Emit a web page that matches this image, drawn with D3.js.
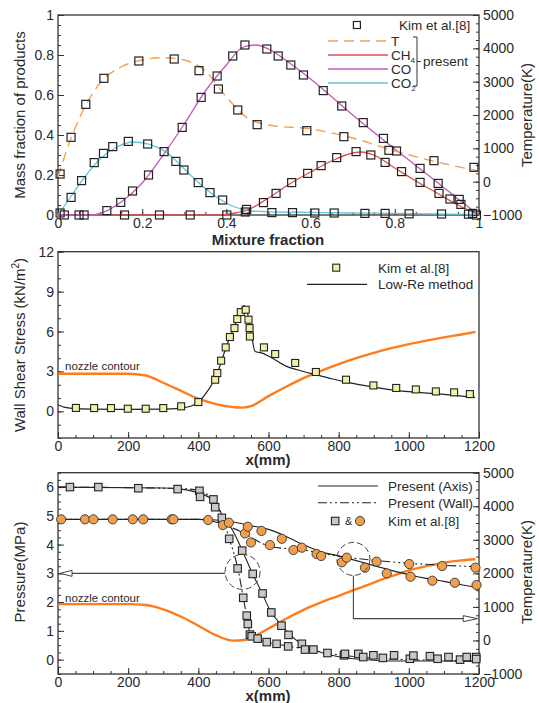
<!DOCTYPE html>
<html>
<head>
<meta charset="utf-8">
<script src="https://cdn.jsdelivr.net/npm/d3@7/dist/d3.min.js"></script>
<style>
  body { margin: 0; background: #fff; }
  svg text { font-family: "Liberation Sans", Arial, sans-serif; fill: #2a2a2a; }
</style>
</head>
<body>
<div id="chart"></div>
<script>
// ---------- top panel: mixture fraction ----------
var tCurve = [[0,140],[0.02,920],[0.05,1880],[0.1,2960],[0.15,3440],[0.2,3650],[0.25,3720],[0.3,3650],[0.35,3320],[0.4,2540],[0.45,1910],[0.5,1700],[0.6,1580],[0.7,1310],[0.8,920],[0.9,590],[1.0,320]];
var ch4Curve = [[0,0],[0.38,0],[0.42,0.01],[0.45,0.025],[0.5,0.085],[0.55,0.155],[0.6,0.215],[0.65,0.27],[0.7,0.31],[0.72,0.315],[0.75,0.3],[0.8,0.235],[0.85,0.17],[0.9,0.11],[0.95,0.05],[1.0,0]];
var coCurve = [[0,0],[0.08,0],[0.1,0.008],[0.15,0.065],[0.2,0.16],[0.25,0.3],[0.3,0.455],[0.35,0.62],[0.4,0.75],[0.44,0.84],[0.47,0.85],[0.5,0.83],[0.55,0.76],[0.6,0.68],[0.7,0.5],[0.8,0.33],[0.9,0.165],[0.95,0.08],[1.0,0]];
var co2Curve = [[0,0],[0.03,0.09],[0.06,0.18],[0.1,0.28],[0.14,0.34],[0.18,0.365],[0.22,0.352],[0.26,0.31],[0.3,0.23],[0.34,0.15],[0.38,0.085],[0.42,0.04],[0.46,0.02],[0.5,0.016],[0.6,0.013],[0.7,0.01],[0.8,0.008],[0.9,0.005],[1,0.003]];
var kimT = [[0.005,230],[0.031,1330],[0.066,2320],[0.109,3100],[0.192,3620],[0.276,3680],[0.335,3330],[0.381,2780],[0.427,2150],[0.473,1710],[0.591,1530],[0.679,1350],[0.786,940],[0.804,920],[0.893,630],[0.988,430]];
var kimCO2 = [[0.005,0.01],[0.031,0.088],[0.056,0.172],[0.086,0.262],[0.108,0.308],[0.13,0.342],[0.167,0.368],[0.213,0.355],[0.252,0.317],[0.28,0.268],[0.299,0.225],[0.333,0.162],[0.361,0.112],[0.391,0.075],[0.448,0.028],[0.508,0.012],[0.557,0.012],[0.61,0.01],[0.656,0.01],[0.729,0.008],[0.777,0.008],[0.834,0.006],[0.911,0.005],[0.975,0.004]];
var kimCO = [[0.015,0],[0.05,0],[0.062,0],[0.116,0.022],[0.149,0.063],[0.177,0.12],[0.215,0.2],[0.295,0.438],[0.34,0.588],[0.378,0.695],[0.415,0.795],[0.444,0.85],[0.496,0.83],[0.523,0.795],[0.553,0.75],[0.583,0.7],[0.63,0.622],[0.674,0.545],[0.725,0.462],[0.773,0.383],[0.86,0.233],[0.903,0.158],[0.931,0.08],[0.953,0.078],[0.957,0.053],[0.994,0]];
var kimCH4 = [[0.158,0],[0.241,0],[0.314,0],[0.401,0],[0.445,0.015],[0.488,0.062],[0.518,0.108],[0.555,0.162],[0.593,0.208],[0.625,0.247],[0.662,0.287],[0.708,0.317],[0.743,0.3],[0.777,0.263],[0.816,0.217],[0.86,0.163],[0.905,0.108],[0.985,0.008]];

// ---------- middle panel: wall shear stress ----------
var kimShear = [[51,0.26],[103,0.25],[151,0.25],[199,0.2],[250,0.2],[300,0.25],[351,0.38],[400,0.7],[448,2.38],[454,2.88],[465,3.81],[478,4.81],[490,5.59],[503,6.26],[511,6.94],[521,7.46],[535,7.64],[543,6.89],[546,6.26],[547,5.63],[587,4.81],[619,4.31],[676,3.64],[735,2.96],[821,2.38],[899,1.95],[964,1.76],[1020,1.65],[1077,1.5],[1129,1.43],[1174,1.3]];
var lowRe = [[0,0.5],[20,0.3],[50,0.2],[100,0.17],[200,0.15],[300,0.17],[350,0.25],[380,0.4],[400,0.7],[420,1.3],[440,2.1],[460,3.3],[480,4.9],[500,6.2],[515,7.2],[530,7.95],[540,7.4],[550,6.0],[562,4.5],[580,4.4],[604,4.1],[650,3.4],[700,3.0],[735,2.76],[780,2.45],[821,2.2],[899,1.83],[964,1.58],[1000,1.48],[1077,1.33],[1130,1.2],[1189,1.05]];
var nozzleMid = [[0,2.83],[100,2.83],[200,2.83],[250,2.7],[300,2.15],[350,1.55],[400,0.95],[450,0.55],[500,0.32],[520,0.28],[550,0.4],[600,1.15],[650,1.85],[700,2.5],[750,3.05],[800,3.55],[850,4.0],[900,4.4],[950,4.75],[1000,5.05],[1050,5.32],[1100,5.56],[1150,5.78],[1190,5.97]];

// ---------- bottom panel: pressure and temperature ----------
var pAxis = [[0,6.0],[300,5.97],[350,5.93],[400,5.8],[440,5.55],[470,5.0],[500,4.45],[525,3.8],[554,3.0],[582,2.3],[606,1.68],[638,1.19],[658,0.9],[700,0.5],[750,0.25],[800,0.1],[850,0.02],[900,-0.02],[1000,-0.05],[1100,-0.05],[1190,-0.06]];
var pWall = [[0,6.0],[350,5.95],[400,5.88],[430,5.7],[450,5.45],[470,4.95],[488,4.2],[500,3.75],[512,3.2],[528,2.17],[538,1.5],[547,0.95],[560,0.78],[595,0.62],[650,0.48],[700,0.38],[750,0.27],[800,0.17],[850,0.1],[900,0.05],[1000,0.0],[1100,-0.03],[1190,-0.04]];
var tAxis = [[0,3610],[400,3610],[450,3590],[500,3530],[550,3420],[600,3310],[650,3100],[700,2850],[750,2640],[800,2520],[850,2380],[900,2230],[950,2090],[1000,1960],[1050,1850],[1100,1760],[1150,1660],[1190,1590]];
var tWall = [[0,3610],[400,3610],[430,3580],[460,3500],[490,3380],[520,3250],[550,3080],[580,2900],[604,2800],[650,2740],[700,2690],[800,2510],[900,2390],[1000,2300],[1100,2240],[1190,2200]];
var kimP = [[34,6.0],[115,6.0],[229,5.96],[341,5.93],[403,5.87],[405,5.66],[443,5.57],[448,5.3],[467,4.93],[488,4.2],[512,3.17],[525,3.79],[528,2.15],[538,1.53],[541,1.24],[547,0.87],[552,0.81],[555,2.98],[569,0.73],[583,2.3],[595,0.61],[608,1.64],[623,0.55],[637,1.18],[656,0.46],[657,0.86],[695,0.55],[704,0.35],[728,0.35],[768,0.23],[815,0.15],[818,0.2],[856,0.2],[870,0.09],[899,0.15],[926,0.06],[958,0.15],[1003,0.03],[1013,0.14],[1060,0.12],[1082,0.03],[1113,0.09],[1146,0.0],[1165,0.09],[1192,0.09],[1192,0.02]];
var kimTemp = [[9,3610],[77,3610],[101,3610],[156,3610],[213,3610],[243,3610],[324,3610],[329,3610],[428,3590],[470,3440],[487,3510],[533,3190],[541,3390],[550,2920],[580,3265],[604,2845],[638,3030],[671,2696],[695,2765],[737,2577],[750,2517],[809,2330],[823,2467],[875,2170],[908,2349],[937,2000],[1001,2277],[1005,1900],[1067,1780],[1095,2218],[1131,1720],[1190,2170],[1193,1653]];
var nozzleBot = [[0,1.93],[100,1.93],[200,1.93],[250,1.9],[300,1.75],[350,1.5],[400,1.18],[450,0.85],[500,0.66],[530,0.68],[560,0.82],[600,1.08],[650,1.42],[700,1.73],[750,1.99],[800,2.22],[850,2.45],[900,2.68],[950,2.9],[1000,3.1],[1050,3.25],[1100,3.37],[1150,3.45],[1190,3.49]];

var W = 539, H = 703;
var L = 58, R = 479;
var cT = "#f5a050", cCH4 = "#d85252", cCO = "#c458b6", cCO2 = "#62c9d9", cNoz = "#ff7c1c";

var svg = d3.select("#chart").append("svg").attr("width", W).attr("height", H);

// scales
var xTop = d3.scaleLinear().domain([0, 1]).range([L, R]);
var yTopL = d3.scaleLinear().domain([0, 1]).range([215, 15]);
var yTopR = d3.scaleLinear().domain([-1000, 5000]).range([215, 15]);
var xMid = d3.scaleLinear().domain([0, 1200]).range([L, R]);
var yMid = d3.scaleLinear().domain([-2, 12]).range([438, 251.7]);
var xBot = d3.scaleLinear().domain([0, 1200]).range([L, R]);
var yBotP = d3.scaleLinear().domain([-0.5, 6.5]).range([674, 472.7]);
var yBotT = d3.scaleLinear().domain([-1000, 5000]).range([674, 472.7]);

function axisStyle(g) {
  g.select(".domain").remove();
  g.selectAll("line").attr("stroke", "#333");
  g.selectAll("text").style("font-size", "14px").attr("fill", "#2a2a2a");
}

function drawFrame(x, y, yR, o) {
  var y0 = y.range()[0], y1 = y.range()[1];
  svg.append("g").attr("transform", "translate(0," + y0 + ")")
      .call(d3.axisBottom(x).tickValues(o.xMinor).tickSize(-3).tickFormat(""))
      .call(axisStyle);
  svg.append("g").attr("transform", "translate(0," + y0 + ")")
      .call(d3.axisBottom(x).tickValues(o.xMajor).tickSize(-6).tickPadding(3).tickFormat(o.xFmt))
      .call(axisStyle);
  svg.append("g").attr("transform", "translate(" + L + ",0)")
      .call(d3.axisLeft(y).tickValues(o.yMinor).tickSize(-3).tickFormat(""))
      .call(axisStyle);
  svg.append("g").attr("transform", "translate(" + L + ",0)")
      .call(d3.axisLeft(y).tickValues(o.yMajor).tickSize(-6).tickPadding(4).tickFormat(o.yFmt))
      .call(axisStyle);
  if (yR) {
    svg.append("g").attr("transform", "translate(" + R + ",0)")
        .call(d3.axisRight(yR).tickValues(o.rMinor).tickSize(-3).tickFormat(""))
        .call(axisStyle);
    svg.append("g").attr("transform", "translate(" + R + ",0)")
        .call(d3.axisRight(yR).tickValues(o.rMajor).tickSize(-6).tickPadding(4).tickFormat(d3.format("d")))
        .call(axisStyle);
  }
  svg.append("rect").attr("x", L).attr("y", y1).attr("width", R - L).attr("height", y0 - y1)
      .attr("fill", "none").attr("stroke", "#333").attr("stroke-width", 1.3);
}

function path(data, x, y, color, width, dash, curve) {
  svg.append("path").datum(data)
      .attr("d", d3.line().x(function(d) { return x(d[0]); }).y(function(d) { return y(d[1]); })
        .curve(curve || d3.curveMonotoneX))
      .attr("fill", "none").attr("stroke", color).attr("stroke-width", width)
      .attr("stroke-dasharray", dash || null);
}

function squares(data, x, y, size, fill, sw) {
  svg.append("g").selectAll("rect").data(data).enter().append("rect")
      .attr("x", function(d) { return x(d[0]) - size / 2; })
      .attr("y", function(d) { return y(d[1]) - size / 2; })
      .attr("width", size).attr("height", size)
      .attr("fill", fill).attr("stroke", "#222").attr("stroke-width", sw || 1.2);
}

var ffmt = function(d) { return d3.format("~g")(d); };

// ================= TOP =================
drawFrame(xTop, yTopL, yTopR, {
  xMajor: d3.range(0, 1.01, 0.2), xMinor: d3.range(0, 1.001, 0.05), xFmt: ffmt,
  yMajor: d3.range(0, 1.01, 0.2), yMinor: d3.range(0, 1.001, 0.05), yFmt: ffmt,
  rMajor: d3.range(-1000, 5001, 1000), rMinor: d3.range(-1000, 5001, 250)
});
path(co2Curve, xTop, yTopL, cCO2, 1.3);
path(ch4Curve, xTop, yTopL, cCH4, 1.3);
path(coCurve, xTop, yTopL, cCO, 1.3);
path(tCurve, xTop, yTopR, cT, 1.4, "10,6");
squares(kimT, xTop, yTopR, 8, "none");
squares(kimCO2, xTop, yTopL, 8, "none");
squares(kimCO, xTop, yTopL, 8, "none");
squares(kimCH4, xTop, yTopL, 8, "none");

// top legend
var lg = svg.append("g");
squares([[0.71, 4700]], xTop, yTopR, 7, "none");
lg.append("text").attr("x", 399).attr("y", 30).style("font-size", "13.5px").text("Kim et al.[8]");
var topLeg = [["T", cT, "10,6", ""], ["CH", cCH4, null, "4"], ["CO", cCO, null, ""], ["CO", cCO2, null, "2"]];
topLeg.forEach(function(d, i) {
  var yy = 41 + i * 14;
  lg.append("line").attr("x1", 328).attr("x2", 388).attr("y1", yy).attr("y2", yy)
      .attr("stroke", d[1]).attr("stroke-width", 1.5).attr("stroke-dasharray", d[2]);
  var t = lg.append("text").attr("x", 391).attr("y", yy + 4.5).style("font-size", "13.5px").text(d[0]);
  if (d[3]) t.append("tspan").attr("dy", 3).style("font-size", "8px").text(d[3]);
});
lg.append("path").attr("d", "M413,37 H417 V86 H413 M417,61.5 H421")
    .attr("fill", "none").attr("stroke", "#333").attr("stroke-width", 1);
lg.append("text").attr("x", 423).attr("y", 66).style("font-size", "13.5px").text("present");

svg.append("text").attr("transform", "translate(25,115) rotate(-90)").attr("text-anchor", "middle")
    .style("font-size", "15px").text("Mass fraction of products");
svg.append("text").attr("transform", "translate(532,115) rotate(-90)").attr("text-anchor", "middle")
    .style("font-size", "15px").text("Temperature(K)");
svg.append("text").attr("x", 268).attr("y", 245).attr("text-anchor", "middle")
    .style("font-size", "15px").style("font-weight", "bold").text("Mixture fraction");

// ================= MIDDLE =================
drawFrame(xMid, yMid, null, {
  xMajor: d3.range(0, 1201, 200), xMinor: d3.range(0, 1201, 50), xFmt: d3.format("d"),
  yMajor: d3.range(0, 12.1, 3), yMinor: d3.range(-2, 12.1, 1), yFmt: d3.format("d")
});
path(nozzleMid, xMid, yMid, cNoz, 2.4);
path(lowRe, xMid, yMid, "#222", 1.2);
squares(kimShear, xMid, yMid, 7, "#f1f0a6", 1.1);
svg.append("text").attr("x", 65).attr("y", 370).style("font-size", "11.5px").text("nozzle contour");

var lg2 = svg.append("g");
squares([[793, 10.8]], xMid, yMid, 7, "#f1f0a6", 1.1);
lg2.append("text").attr("x", 378).attr("y", 273).style("font-size", "13.5px").text("Kim et al.[8]");
lg2.append("line").attr("x1", 307).attr("x2", 367).attr("y1", 284.3).attr("y2", 284.3).attr("stroke", "#222").attr("stroke-width", 1.2);
lg2.append("text").attr("x", 378).attr("y", 289).style("font-size", "13.5px").text("Low-Re method");

var wt = svg.append("text").attr("transform", "translate(25,345) rotate(-90)").attr("text-anchor", "middle")
    .style("font-size", "15px").text("Wall Shear Stress (kN/m");
wt.append("tspan").attr("dy", -6).style("font-size", "10px").text("2");
wt.append("tspan").attr("dy", 6).text(")");
svg.append("text").attr("x", 268).attr("y", 465).attr("text-anchor", "middle")
    .style("font-size", "15px").style("font-weight", "bold").text("x(mm)");

// ================= BOTTOM =================
drawFrame(xBot, yBotP, yBotT, {
  xMajor: d3.range(0, 1201, 200), xMinor: d3.range(0, 1201, 50), xFmt: d3.format("d"),
  yMajor: d3.range(0, 6.1, 1), yMinor: d3.range(-0.5, 6.51, 0.25), yFmt: d3.format("d"),
  rMajor: d3.range(-1000, 5001, 1000), rMinor: d3.range(-1000, 5001, 250)
});
path(nozzleBot, xBot, yBotP, cNoz, 2.4);
var dd = "9,3,2,3,2,3";
path(pAxis, xBot, yBotP, "#222", 1.1);
path(pWall, xBot, yBotP, "#222", 1.1, dd);
path(tAxis, xBot, yBotT, "#222", 1.1);
path(tWall, xBot, yBotT, "#222", 1.1, dd);
squares(kimP, xBot, yBotP, 7.5, "#c8c8c8", 1.1);
svg.append("g").selectAll("circle").data(kimTemp).enter().append("circle")
    .attr("cx", function(d) { return xBot(d[0]); })
    .attr("cy", function(d) { return yBotT(d[1]); })
    .attr("r", 4.6).attr("fill", "#f0a04c").attr("stroke", "#333").attr("stroke-width", 0.9);
svg.append("text").attr("x", 65).attr("y", 602).style("font-size", "11.5px").text("nozzle contour");

// annotations
var ann = svg.append("g").attr("stroke", "#444").attr("fill", "none");
var c1 = [xBot(526), yBotP(3.05)], c2 = [xBot(842), yBotT(2430)];
ann.append("circle").attr("cx", c1[0]).attr("cy", c1[1]).attr("r", 17.5).attr("stroke-dasharray", "6,3");
ann.append("circle").attr("cx", c2[0]).attr("cy", c2[1]).attr("r", 16.5).attr("stroke-dasharray", "6,3");
ann.append("line").attr("x1", c1[0] - 17.5).attr("x2", xBot(40)).attr("y1", yBotP(3.0)).attr("y2", yBotP(3.0)).attr("stroke-width", 1.1);
ann.append("path").attr("d", "M" + xBot(40) + "," + (yBotP(3.0) - 3) + " L" + xBot(6) + "," + yBotP(3.0) + " L" + xBot(40) + "," + (yBotP(3.0) + 3) + " Z")
    .attr("fill", "#fff").attr("stroke-width", 1);
var yArr = yBotT(650);
ann.append("path").attr("d", "M" + c2[0] + "," + (c2[1] + 16.5) + " V" + yArr + " H" + xBot(1155))
    .attr("stroke-width", 1.1);
ann.append("path").attr("d", "M" + xBot(1155) + "," + (yArr - 3) + " L" + xBot(1196) + "," + yArr + " L" + xBot(1155) + "," + (yArr + 3) + " Z")
    .attr("fill", "#fff").attr("stroke-width", 1);

// bottom legend
var lg3 = svg.append("g");
lg3.append("line").attr("x1", 318).attr("x2", 378).attr("y1", 486).attr("y2", 486).attr("stroke", "#222").attr("stroke-width", 1.1);
lg3.append("text").attr("x", 388).attr("y", 491).style("font-size", "13.5px").text("Present (Axis)");
lg3.append("line").attr("x1", 318).attr("x2", 378).attr("y1", 502.7).attr("y2", 502.7).attr("stroke", "#222").attr("stroke-width", 1.1).attr("stroke-dasharray", dd);
lg3.append("text").attr("x", 388).attr("y", 507.5).style("font-size", "13.5px").text("Present (Wall)");
squares([[790, 4.82]], xBot, yBotP, 7.5, "#c8c8c8", 1.1);
lg3.append("text").attr("x", 345).attr("y", 525).style("font-size", "11px").text("&");
lg3.append("circle").attr("cx", 360).attr("cy", 521).attr("r", 4.6).attr("fill", "#f0a04c").attr("stroke", "#333").attr("stroke-width", 0.9);
lg3.append("text").attr("x", 388).attr("y", 525.5).style("font-size", "13.5px").text("Kim et al.[8]");

svg.append("text").attr("transform", "translate(25,572) rotate(-90)").attr("text-anchor", "middle")
    .style("font-size", "15px").text("Pressure(MPa)");
svg.append("text").attr("transform", "translate(532,572) rotate(-90)").attr("text-anchor", "middle")
    .style("font-size", "15px").text("Temperature(K)");
svg.append("text").attr("x", 268).attr("y", 701).attr("text-anchor", "middle")
    .style("font-size", "15px").style("font-weight", "bold").text("x(mm)");
</script>
</body>
</html>
